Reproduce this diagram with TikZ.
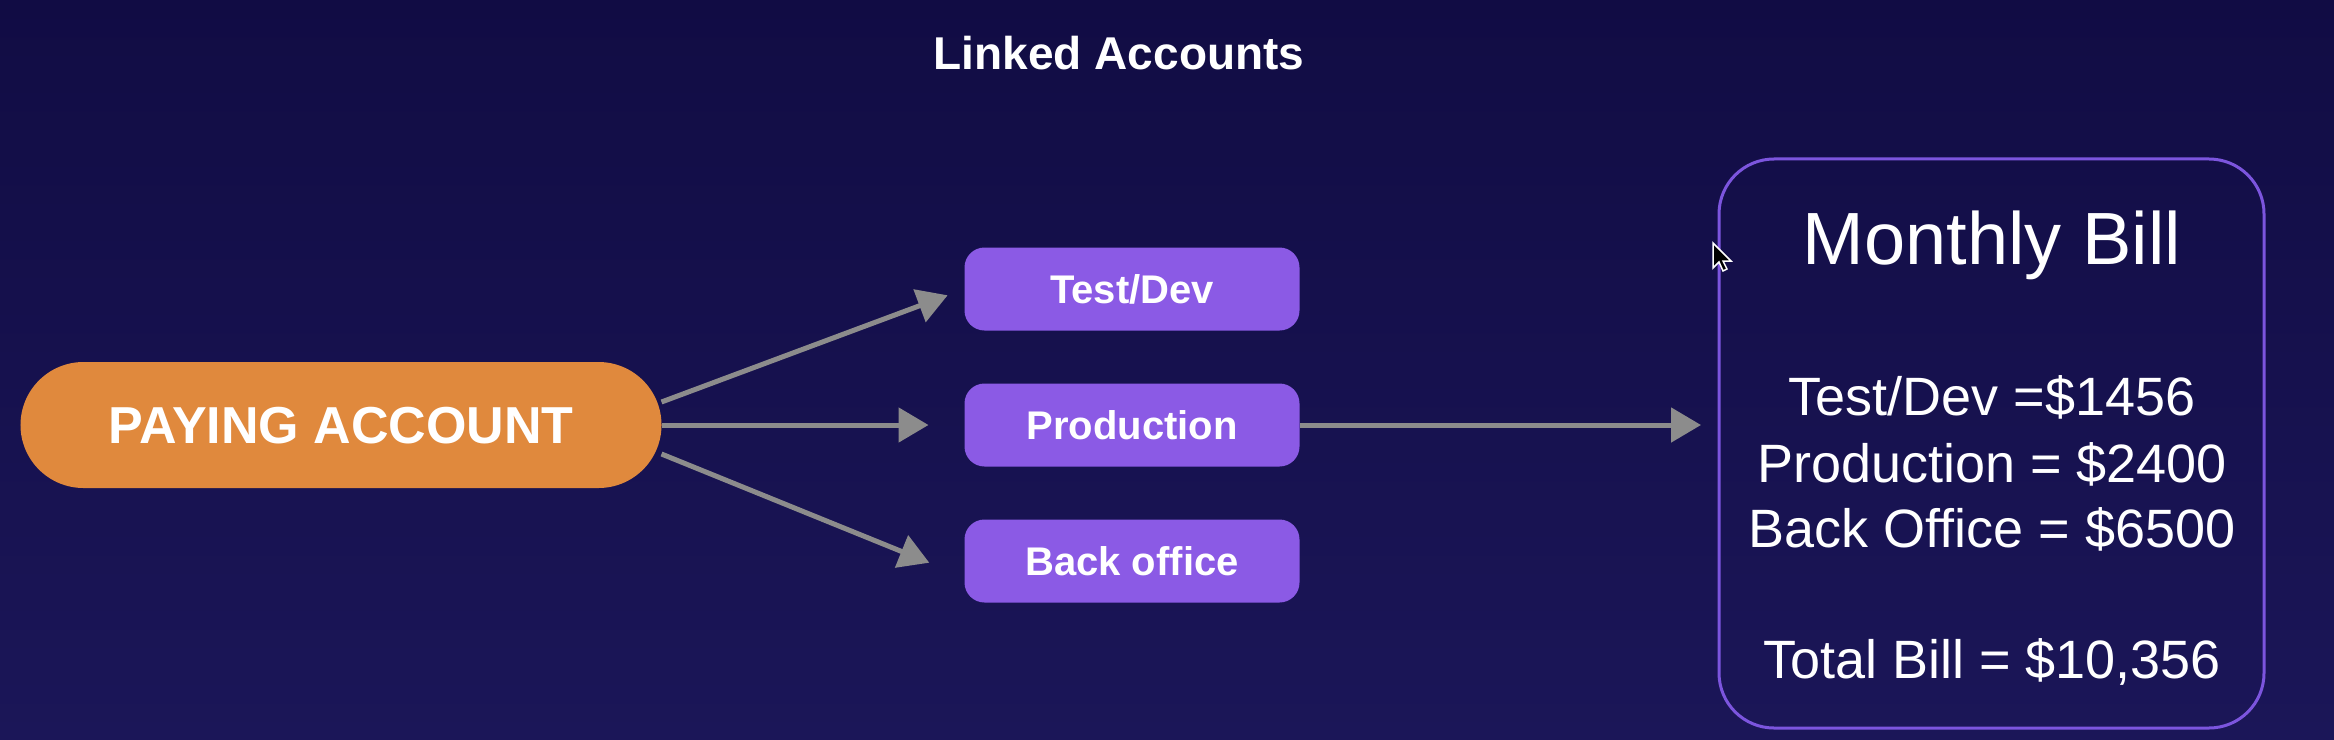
\documentclass[tikz,border=0pt]{standalone}
\usepackage{fontspec}
\setmainfont{Liberation Sans}
\usetikzlibrary{arrows.meta}
\definecolor{bgtop}{RGB}{17,12,68}
\definecolor{bgbottom}{RGB}{27,22,88}
\definecolor{payorange}{RGB}{224,137,61}
\definecolor{envpurple}{RGB}{139,90,229}
\definecolor{billpurple}{RGB}{124,85,222}
\definecolor{arrowgray}{RGB}{140,140,140}
\tikzset{
  envbox/.style={fill=envpurple,rounded corners=20bp,minimum width=335bp,minimum height=83bp,
    text=white,text height=29bp,text depth=0pt,inner sep=0pt,font=\fontsize{40bp}{48bp}\selectfont\bfseries},
  billtext/.style={anchor=base,text=white,inner sep=0pt,font=\fontsize{54bp}{65bp}\selectfont},
  flow/.style={draw=arrowgray,line width=5bp,-{Triangle[length=30bp,width=34bp]}}
}

\begin{document}
\begin{tikzpicture}[x=1bp,y=-1bp,inner sep=0pt,outer sep=0pt]
  \useasboundingbox (0,0) rectangle (2334,740);
  \shade[top color=bgtop,bottom color=bgbottom] (0,0) rectangle (2334,740);
  \node[anchor=base,text=white] (title) at (1119,70) {\fontsize{46bp}{55bp}\selectfont\bfseries Linked Accounts};
  % paying account and linked accounts
  \node[fill=payorange,rounded corners=63bp,minimum width=641bp,minimum height=126bp,text=white,
    text height=37bp,text depth=0pt] (pay) at (341,425) {\fontsize{52bp}{62bp}\selectfont\bfseries PAYING ACCOUNT};
  \node[envbox] (testdev) at (1132,289) {Test/Dev};
  \node[envbox] (prod) at (1132,425) {Production};
  \node[envbox] (backoff) at (1132,561) {Back office};
  % monthly bill
  \node[draw=billpurple,line width=3bp,rounded corners=55bp,minimum width=545bp,minimum height=569bp] (bill) at (1991.5,443.5) {};
  \node[anchor=base,text=white] (billtitle) at (1992,264) {\fontsize{74bp}{88bp}\selectfont Monthly Bill};
  \node[billtext] (billtd) at (1992,415.5) {Test/Dev =\$1456};
  \node[billtext] (billprod) at (1992,482) {Production = \$2400};
  \node[billtext] (billbo) at (1992,547.5) {Back Office = \$6500};
  \node[billtext] (billtotal) at (1992,678) {Total Bill = \$10,356};
  % arrows
  \draw[flow,shorten >=18bp] ([yshift=23bp]pay.east) -- (testdev.west);
  \draw[flow,shorten >=36bp] (pay.east) -- (prod.west);
  \draw[flow,shorten >=38bp] ([yshift=-29bp]pay.east) -- ([yshift=-16bp]backoff.west);
  \draw[flow,shorten >=18bp] (prod.east) -- (prod.east -| bill.west);
  % mouse pointer
  \filldraw[fill=black,draw=white,line width=1.5bp] (1713,243) -- (1713,268) -- (1719,262) -- (1723,271)
    -- (1727,269) -- (1723,261) -- (1731,261) -- cycle;
\end{tikzpicture}
\end{document}
